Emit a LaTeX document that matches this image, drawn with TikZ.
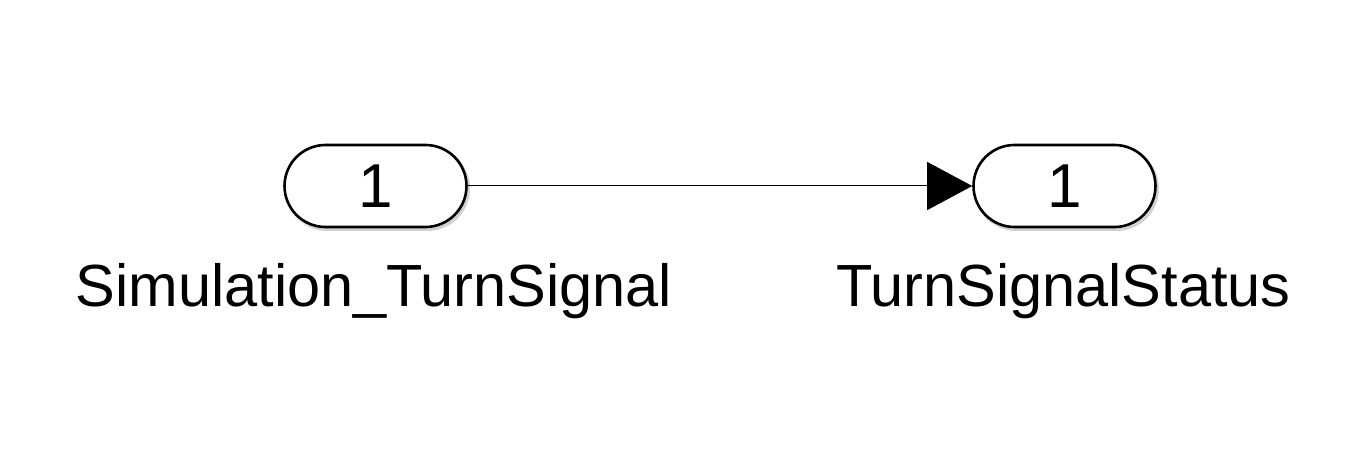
\documentclass[tikz,border=0pt]{standalone}
\usepackage{fontspec}
\setmainfont{Liberation Sans}
\usetikzlibrary{arrows.meta}
\begin{document}
\begin{tikzpicture}[x=1pt,y=-1pt,
  port/.style={draw=black, line width=2.6pt, fill=white, rounded corners=41pt,
    minimum width=182pt, minimum height=82pt, inner sep=0pt,
    font=\fontsize{62}{62}\selectfont},
  portshadow/.style={draw=black!18, line width=3pt, rounded corners=41pt,
    minimum width=182pt, minimum height=82pt, inner sep=0pt},
  lbl/.style={anchor=base, inner sep=0pt, font=\fontsize{59.5}{59.5}\selectfont},
  wire/.style={line width=1pt, -{Triangle[length=45pt,width=48pt]}}]
\useasboundingbox (0,0) rectangle (1369,457);
\node[portshadow] at (377.5,188.5) {};
\node[portshadow] at (1066.5,188.5) {};
\node[port] (in) at (375.5,186) {1};
\node[port] (out) at (1064.5,186) {1};
\node[lbl] (inl) at (374,306) {Simulation\_TurnSignal};
\node[lbl] (outl) at (1063.5,306) {TurnSignalStatus};
\draw[wire] (in.east) -- (out.west);
\end{tikzpicture}
\end{document}
